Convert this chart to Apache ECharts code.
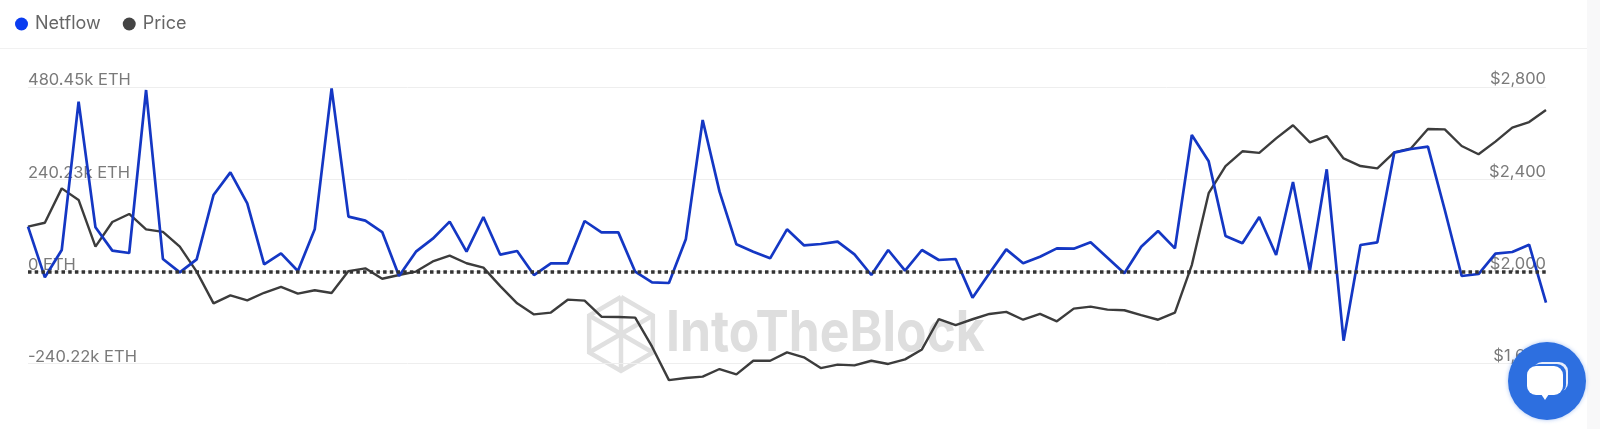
<!DOCTYPE html>
<html><head><meta charset="utf-8">
<style>html,body{margin:0;padding:0;background:#fff}#c{width:1600px;height:429px}</style>
<script src="https://cdn.jsdelivr.net/npm/echarts@6/dist/echarts.min.js"></script>
</head><body><div id="c"></div>
<script>
const days=Array.from({length:91},(_,i)=>String(i+1));
const netflow=[116.4,-15.6,55.6,442.2,114.7,53.9,47.8,472.6,32.1,-2.6,31.3,199.0,258.0,177.2,18.2,46.9,0.9,109.5,477.0,142.5,132.1,102.5,-12.2,51.3,85.1,129.5,51.3,141.6,43.4,53.0,
-9.6,20.9,20.9,131.2,101.6,101.6,-0.9,-28.7,-30.4,83.4,394.4,207.6,70.4,51.3,33.9,109.5,67.8,71.2,77.3,44.3,-9.6,55.6,1.7,55.6,29.5,32.1,-68.6,-5.2,57.3,20.9,38.2,
59.9,59.1,75.6,35.6,-5.2,64.3,105.1,59.9,355.3,286.7,92.1,73.0,141.6,42.6,232.8,1.7,265.9,-180.7,68.6,75.6,309.3,318.8,324.9,159.9,-12.2,-7.0,46.0,50.4,69.5,-81.7];
const price=[2194,2211,2360,2310,2107,2214,2249,2182,2171,2107,1999,1861,1896,1874,1907,1933,1903,1918,1906,2001,2013,1968,1984,1999,2043,2068,2035,2016,1936,1861,
1813,1821,1877,1873,1803,1802,1799,1673,1528,1537,1543,1576,1553,1612,1612,1648,1627,1580,1595,1592,1612,1598,1618,1661,1793,1767,1792,1815,1824,1790,1815,
1783,1838,1847,1834,1831,1810,1790,1821,2027,2339,2457,2521,2514,2577,2634,2560,2587,2490,2457,2447,2516,2534,2618,2616,2544,2508,2563,2624,2648,2700];
const netflowTicks=['-240.22k ETH','0 ETH','240.23k ETH','480.45k ETH'];
const priceTicks=['$1,600','$2,000','$2,400','$2,800'];

const FONT='Inter';
const GREY='#7a7a7a';
const chart=echarts.init(document.getElementById('c'),null,{renderer:'canvas'});
const hex=(cx,cy,r)=>[[cx,cy-r],[cx+r*.86,cy-r*.5],[cx+r*.86,cy+r*.5],[cx,cy+r],[cx-r*.86,cy+r*.5],[cx-r*.86,cy-r*.5],[cx,cy-r]];
const wm={stroke:'#e0e0e0',fill:'none',lineWidth:4.5};
chart.setOption({
  animation:false,
  backgroundColor:'#fff',
  legend:{left:10,top:10,itemWidth:13,itemHeight:13,itemGap:22,icon:'circle',
    data:[{name:'Netflow',itemStyle:{color:'#0a3cf0'}},{name:'Price',itemStyle:{color:'#444'}}],
    textStyle:{fontFamily:FONT,fontSize:18,color:'#666',padding:[0,0,0,2]}},
  grid:{left:28,right:54,top:87,height:276.5},
  xAxis:{type:'category',data:days,boundaryGap:false,axisLine:{show:false},axisTick:{show:false},axisLabel:{show:false},splitLine:{show:false}},
  yAxis:[
   {type:'value',min:-240.225,max:480.45,interval:240.225,position:'left',
    axisLine:{show:false},axisTick:{show:false},
    splitLine:{lineStyle:{color:'#eeeeee',width:1}},
    axisLabel:{inside:true,margin:0,verticalAlign:'bottom',fontFamily:FONT,fontSize:16.5,color:GREY,lineHeight:13,
      formatter:(v,i)=>netflowTicks[i]}},
   {type:'value',min:1600,max:2800,interval:400,position:'right',
    axisLine:{show:false},axisTick:{show:false},splitLine:{show:false},
    axisLabel:{inside:true,margin:0,verticalAlign:'bottom',fontFamily:FONT,fontSize:16.5,color:GREY,lineHeight:15,
      formatter:(v,i)=>priceTicks[i]}}
  ],
  graphic:[
   {type:'rect',z:0,shape:{x:0,y:48,width:1587,height:1},style:{fill:'#f1f1f1'}},
   {type:'rect',z:0,shape:{x:1587,y:0,width:13,height:429},style:{fill:'#f8f8f9'}},
   {type:'polyline',z:0,shape:{points:hex(621,334,37)},style:wm},
   {type:'polyline',z:0,shape:{points:[[621,297],[621,371]]},style:wm},
   {type:'polyline',z:0,shape:{points:[[590,316],[652,352]]},style:wm},
   {type:'polyline',z:0,shape:{points:[[652,316],[590,352]]},style:wm},
   {type:'text',z:0,x:666,y:334,scaleX:.89,style:{x:0,y:0,text:'IntoTheBlock',fontFamily:FONT,fontWeight:700,fontSize:56,fill:'#dedede',verticalAlign:'middle'}},
   {type:'circle',z:50,shape:{cx:1547,cy:381,r:39},style:{fill:'#2d6fe0',shadowBlur:4,shadowColor:'rgba(45,111,224,.4)'}},
   {type:'rect',z:51,shape:{x:1533,y:362,width:35,height:30,r:9},style:{fill:'#e9eefb'}},
   {type:'rect',z:52,shape:{x:1530,y:364,width:36,height:30,r:9},style:{fill:'#2d6fe0'}},
   {type:'rect',z:53,shape:{x:1527,y:366,width:36,height:29,r:9},style:{fill:'#fff'}},
   {type:'polygon',z:53,shape:{points:[[1541,394],[1549,394],[1545,400]]},style:{fill:'#fff'}}
  ],
  series:[
   {name:'Netflow',type:'line',yAxisIndex:0,data:netflow,symbol:'none',z:4,clip:false,
    lineStyle:{color:'#1437c4',width:2.7},itemStyle:{color:'#0a3cf0'},
    markLine:{silent:true,symbol:'none',label:{show:false},z:5,
      data:[{yAxis:0}],
      lineStyle:{color:'#333',type:[3.5,3.2],width:3.5}}},
   {name:'Price',type:'line',yAxisIndex:1,data:price,symbol:'none',z:3,clip:false,
    lineStyle:{color:'#3c3c3c',width:2.4},itemStyle:{color:'#444'}}
  ]
});
</script></body></html>
